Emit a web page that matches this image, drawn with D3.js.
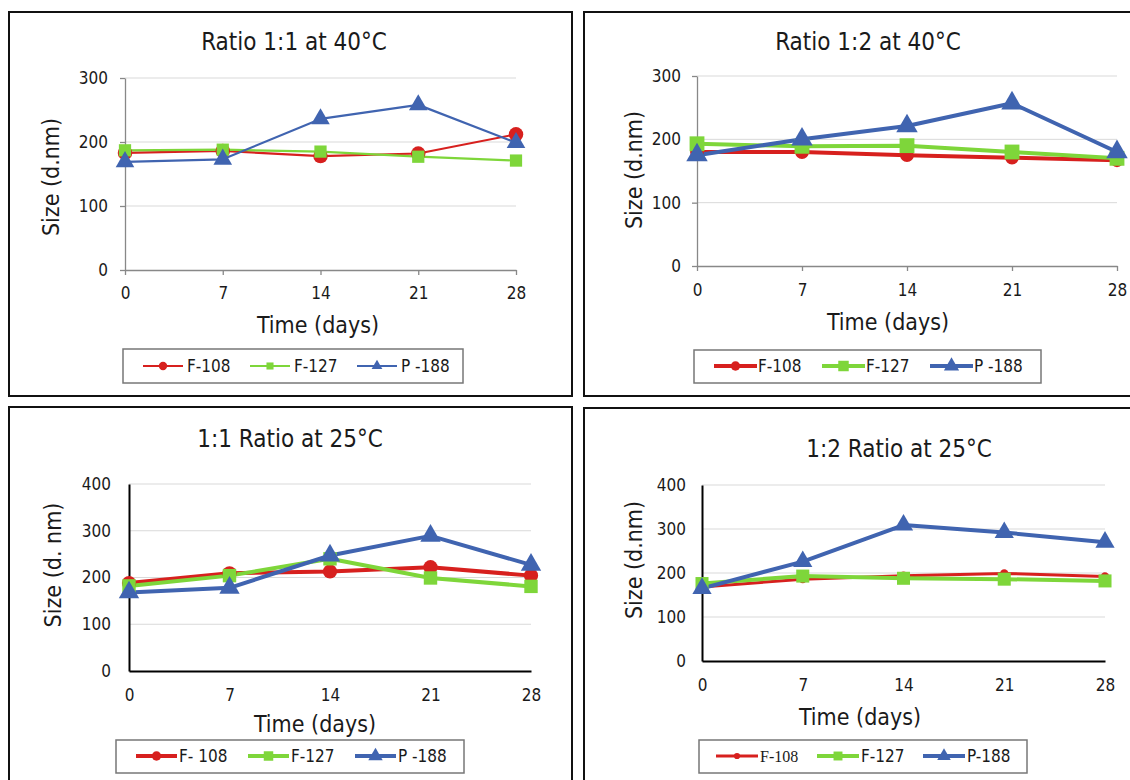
<!DOCTYPE html>
<html><head><meta charset="utf-8">
<script src="https://cdn.jsdelivr.net/npm/d3@7"></script>
<style>
body{margin:0;background:#fff}
svg{display:block}
text{font-family:"DejaVu Sans Condensed","DejaVu Sans",sans-serif;fill:#1a1a1a}
</style>
</head><body>
<svg id="c" width="1130" height="780"></svg>
<script>
// ---------- data ----------
const days = [0, 7, 14, 21, 28];
const yTicks40 = [0, 100, 200, 300];
const yTicks25 = [0, 100, 200, 300, 400];
const titles = ["Ratio 1:1 at 40°C", "Ratio 1:2 at 40°C", "1:1 Ratio at 25°C", "1:2 Ratio at 25°C"];
const yTitles = ["Size (d.nm)", "Size (d.nm)", "Size (d. nm)", "Size (d.nm)"];
const xTitle = "Time (days)";
const legend1 = ["F-108", "F-127", "P -188"];
const legend2 = ["F-108", "F-127", "P -188"];
const legend3 = ["F- 108", "F-127", "P -188"];
const legend4 = ["F-108", "F-127", "P-188"];

const r11_40_F108 = [183, 186, 178, 182, 212];
const r11_40_F127 = [187, 188, 185, 177, 171];
const r11_40_P188 = [169, 173, 236, 258, 199];

const r12_40_F108 = [180, 180, 175, 171, 167];
const r12_40_F127 = [193, 189, 190, 180, 170];
const r12_40_P188 = [175, 200, 221, 257, 180];

const r11_25_F108 = [188, 209, 213, 222, 204];
const r11_25_F127 = [182, 204, 240, 199, 181];
const r11_25_P188 = [168, 178, 247, 289, 227];

const r12_25_F108 = [168, 186, 194, 199, 192];
const r12_25_F127 = [176, 193, 188, 186, 182];
const r12_25_P188 = [165, 226, 309, 292, 270];

const colors = ["#D7201E", "#7ED63A", "#4064B0"];
const shapes = [d3.symbolCircle, d3.symbolSquare, d3.symbolTriangle];

// ---------- layout ----------
const panels = [
  { series: [r11_40_F108, r11_40_F127, r11_40_P188], legend: legend1, ticks: yTicks40, yMax: 300,
    box: [9, 12, 572, 396], x0: 125, x1: 516, yb: 270, yt: 78,
    title: [294, 50], yTitle: [51, 177], xTitle: [318, 333], ySpace: 17, xSpace: 17,
    axis: "#888", axisW: 1.3, tick: 5,
    lw: [2.2, 2.2, 2.2], ms: [165, 150, 150],
    lg: { box: [123, 349, 463, 383], items: [143, 250, 357], len: 40, tdx: 44, cy: 366, lw: [2.2, 2.2, 2.2], ms: [55, 50, 50] } },
  { series: [r12_40_F108, r12_40_F127, r12_40_P188], legend: legend2, ticks: yTicks40, yMax: 300,
    box: [584, 12, 1134, 396], x0: 697, x1: 1117, yb: 266, yt: 76,
    title: [868, 50], yTitle: [634, 170], xTitle: [888, 330], ySpace: 16, xSpace: 18,
    axis: "#888", axisW: 1.3, tick: 5,
    lw: [4, 4, 4], ms: [150, 220, 200],
    lg: { box: [694, 350, 1041, 383], items: [714, 822, 930], len: 43, tdx: 44, cy: 366, lw: [4, 4, 4], ms: [70, 110, 100] } },
  { series: [r11_25_F108, r11_25_F127, r11_25_P188], legend: legend3, ticks: yTicks25, yMax: 400,
    box: [9, 407, 572, 792], x0: 129, x1: 531, yb: 671, yt: 484,
    title: [290, 447], yTitle: [53, 565], xTitle: [315, 732], ySpace: 18, xSpace: 18,
    axis: "#000", axisW: 2, tick: 0,
    lw: [4, 4, 4], ms: [160, 180, 180],
    lg: { box: [116, 740, 464, 773], items: [136, 248, 355], len: 41, tdx: 43, cy: 756, lw: [4, 4, 4], ms: [70, 90, 90] } },
  { series: [r12_25_F108, r12_25_F127, r12_25_P188], legend: legend4, ticks: yTicks25, yMax: 400,
    box: [584, 408, 1134, 792], x0: 702, x1: 1105, yb: 661, yt: 485,
    title: [899, 457], yTitle: [634, 560], xTitle: [860, 725], ySpace: 16, xSpace: 18,
    axis: "#000", axisW: 2, tick: 0,
    lw: [3, 4, 4], ms: [55, 170, 160],
    lg: { box: [699, 740, 1027, 773], items: [716, 817, 923], len: 42, tdx: 44, cy: 756, lw: [3, 4, 4], ms: [30, 80, 80] } }
];

const svg = d3.select("#c");

panels.forEach((p, pi) => {
  const g = svg.append("g");
  const [bx0, by0, bx1, by1] = p.box;
  g.append("rect").attr("x", bx0).attr("y", by0).attr("width", bx1 - bx0).attr("height", by1 - by0)
    .attr("fill", "none").attr("stroke", "#111").attr("stroke-width", 2);

  const x = d3.scaleLinear().domain([0, 28]).range([p.x0, p.x1]);
  const y = d3.scaleLinear().domain([0, p.yMax]).range([p.yb, p.yt]);

  // gridlines
  g.selectAll(".grid").data(p.ticks.filter(t => t > 0)).join("line")
    .attr("x1", p.x0).attr("x2", p.x1)
    .attr("y1", d => y(d)).attr("y2", d => y(d))
    .attr("stroke", "#d9d9d9").attr("stroke-width", 1);

  // axes
  const ya = g.append("g").attr("transform", `translate(${p.x0},0)`)
    .call(d3.axisLeft(y).tickValues(p.ticks).tickFormat(d3.format("d"))
      .tickSizeInner(p.tick).tickSizeOuter(0).tickPadding(p.ySpace - p.tick));
  const xa = g.append("g").attr("transform", `translate(0,${p.yb})`)
    .call(d3.axisBottom(x).tickValues(days).tickFormat(d3.format("d"))
      .tickSizeInner(p.tick).tickSizeOuter(0).tickPadding(p.xSpace - p.tick));
  [ya, xa].forEach(a => {
    a.select(".domain").attr("stroke", p.axis).attr("stroke-width", p.axisW);
    a.selectAll(".tick line").attr("stroke", p.axis).attr("stroke-width", p.axisW);
    a.selectAll(".tick text").attr("font-size", 17).attr("fill", "#1a1a1a")
      .style("font-family", '"DejaVu Sans Condensed","DejaVu Sans",sans-serif');
  });

  // series
  p.series.forEach((vals, si) => {
    const pts = days.map((d, i) => [x(d), y(vals[i])]);
    g.append("path").attr("d", d3.line()(pts)).attr("fill", "none")
      .attr("stroke", colors[si]).attr("stroke-width", p.lw[si]).attr("stroke-linejoin", "round");
  });
  p.series.forEach((vals, si) => {
    g.selectAll(null).data(days.map((d, i) => [x(d), y(vals[i])])).join("path")
      .attr("transform", d => `translate(${d[0]},${d[1]})`)
      .attr("d", d3.symbol().type(shapes[si]).size(p.ms[si]))
      .attr("fill", colors[si]);
  });

  // titles
  g.append("text").attr("x", p.title[0]).attr("y", p.title[1]).attr("text-anchor", "middle")
    .attr("font-size", 24).text(titles[pi]);
  g.append("text").attr("transform", `translate(${p.yTitle[0]},${p.yTitle[1]}) rotate(-90)`)
    .attr("text-anchor", "middle").attr("dy", "0.35em").attr("font-size", 23).text(yTitles[pi]);
  g.append("text").attr("x", p.xTitle[0]).attr("y", p.xTitle[1]).attr("text-anchor", "middle")
    .attr("font-size", 23).text(xTitle);

  // legend
  const L = p.lg;
  g.append("rect").attr("x", L.box[0]).attr("y", L.box[1]).attr("width", L.box[2] - L.box[0])
    .attr("height", L.box[3] - L.box[1]).attr("fill", "#fff").attr("stroke", "#777").attr("stroke-width", 1.5);
  p.legend.forEach((name, si) => {
    const lx = L.items[si];
    g.append("line").attr("x1", lx).attr("x2", lx + L.len).attr("y1", L.cy).attr("y2", L.cy)
      .attr("stroke", colors[si]).attr("stroke-width", L.lw[si]);
    g.append("path").attr("transform", `translate(${lx + L.len / 2},${L.cy})`)
      .attr("d", d3.symbol().type(shapes[si]).size(L.ms[si])).attr("fill", colors[si]);
    const t = g.append("text").attr("x", lx + L.tdx).attr("y", L.cy).attr("dy", "0.36em")
      .attr("font-size", 17).text(name);
    if (pi === 3 && si === 0) t.style("font-family", '"Liberation Serif",serif').attr("font-size", 16);
  });
});
</script>
</body></html>
